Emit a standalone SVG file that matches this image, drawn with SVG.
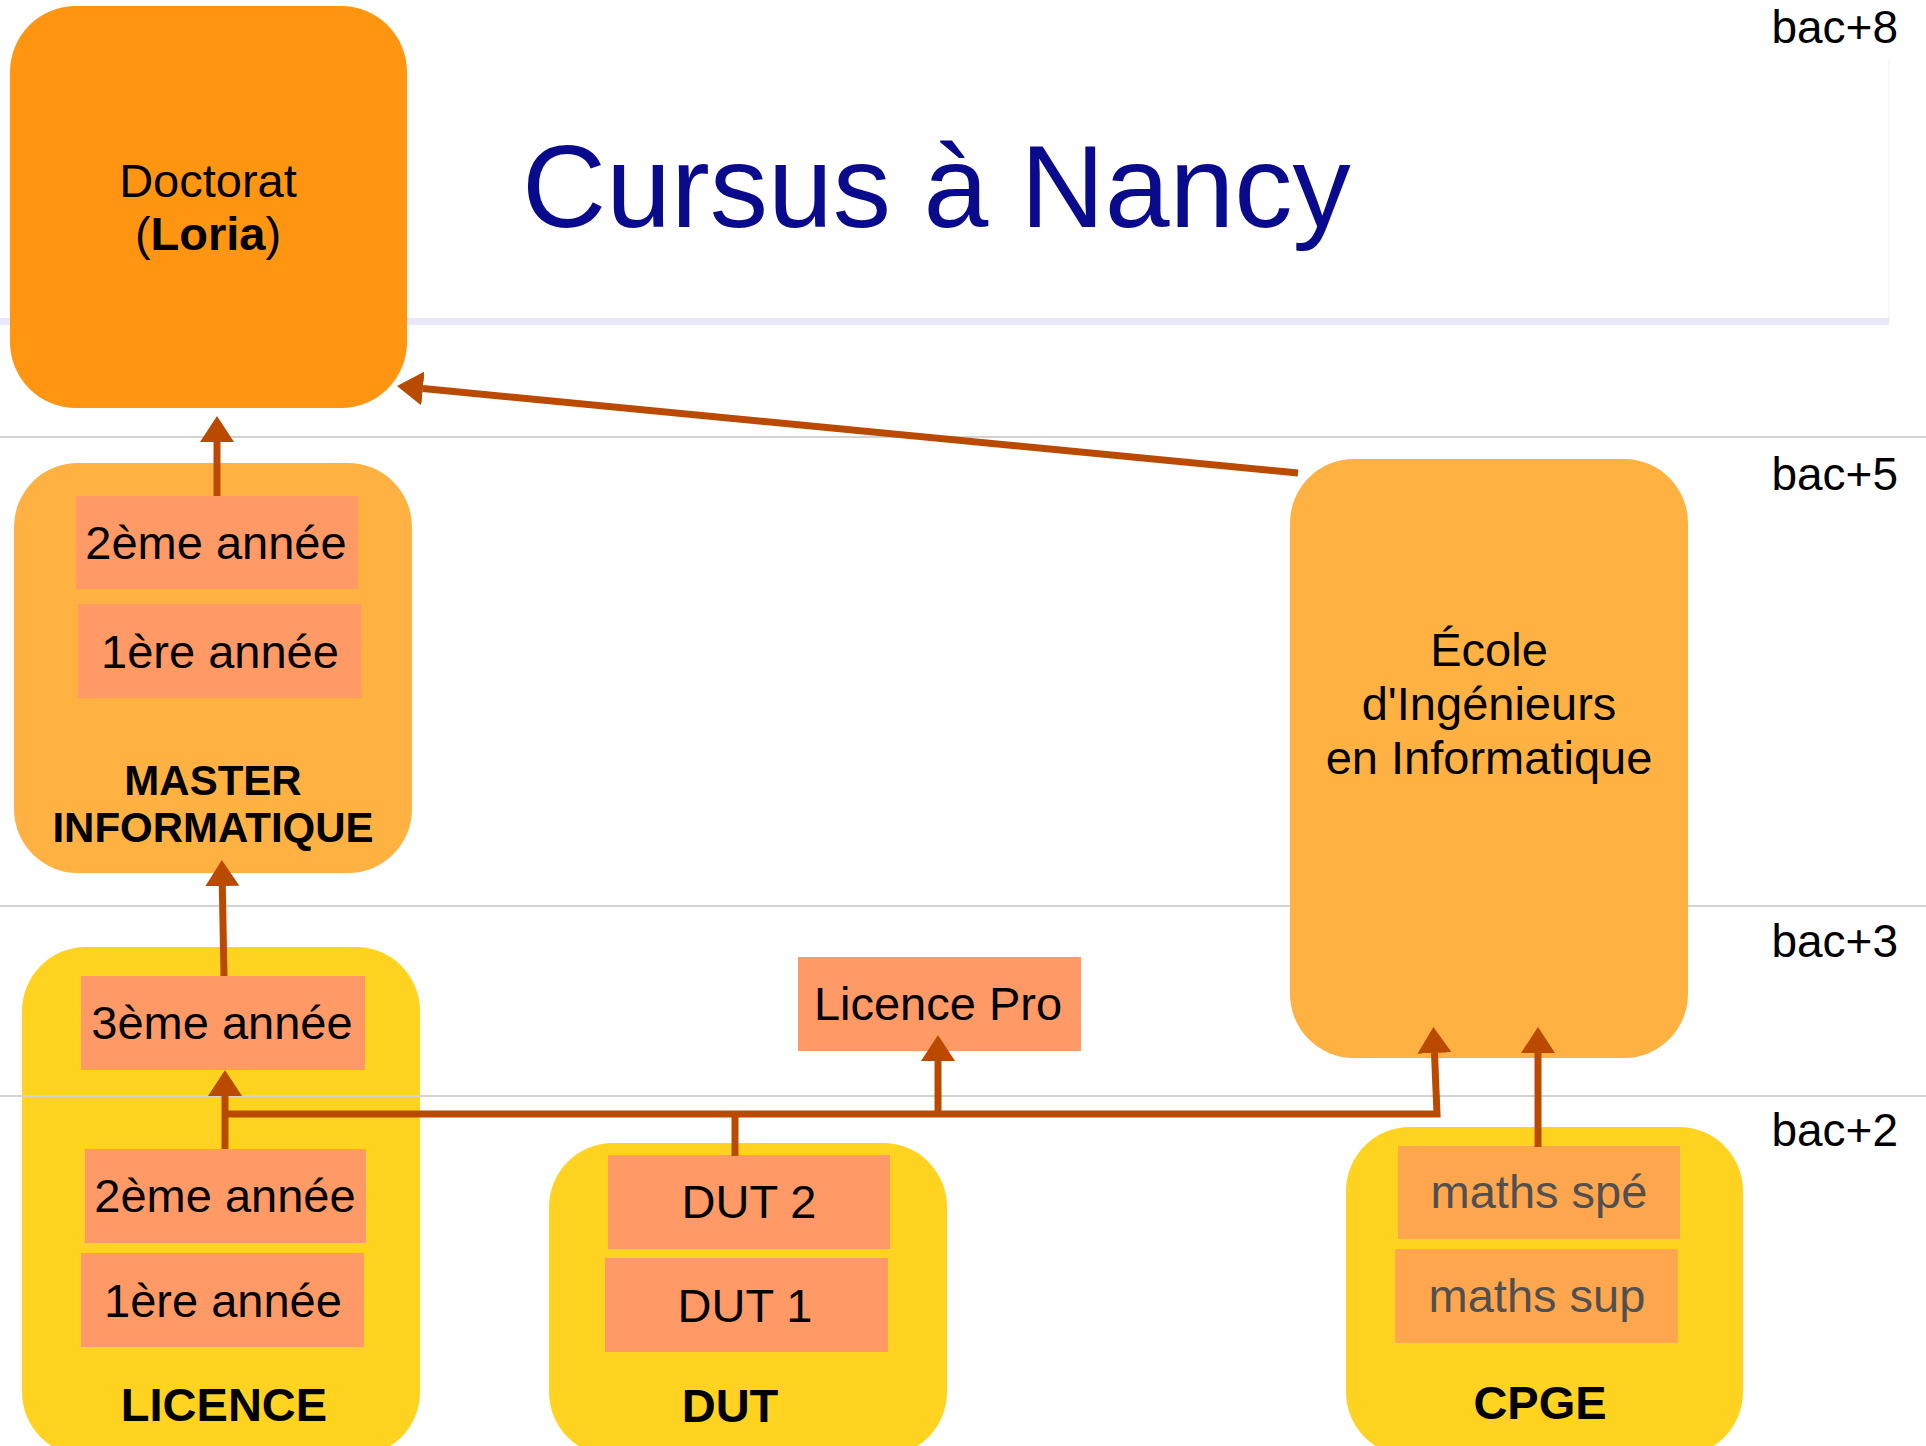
<svg xmlns="http://www.w3.org/2000/svg" width="1926" height="1446" viewBox="0 0 1926 1446">
<style>
.t{font-family:"Liberation Sans",Arial,sans-serif;font-size:47px;fill:#000;text-anchor:middle}
.b{font-weight:bold}
.m{font-size:42px}
.lvl{font-family:"Liberation Sans",Arial,sans-serif;font-size:46px;fill:#000;text-anchor:end}
.grid{stroke:#D2D2D2;stroke-width:2}
.big1{fill:#FF9511}
.big2{fill:#FFB142}
.big3{fill:#FFD320}
.yr{fill:#FF9966}
.yr2{fill:#FFA64F}
.con{fill:none;stroke:#B94A00;stroke-width:7;stroke-linejoin:miter}
.gray{fill:#505050}
</style>
<defs>
<marker id="ah" markerUnits="userSpaceOnUse" viewBox="0 0 26 34" refX="0" refY="17" markerWidth="26" markerHeight="34" orient="auto">
<path d="M0,0 L26,17 L0,34 z" fill="#B94A00"/>
</marker>
</defs>
<rect width="1926" height="1446" fill="#fff"/>
<g id="background">
<line x1="1889" y1="60" x2="1889" y2="322" stroke="#F4F4F6" stroke-width="1.5"/>
<rect x="0" y="318" width="1889" height="7" fill="#E8E8FA"/>
<line class="grid" x1="0" y1="437" x2="1926" y2="437"/>
<line class="grid" x1="0" y1="906" x2="1926" y2="906"/>
<text class="lvl" x="1898" y="43">bac+8</text>
<text class="lvl" x="1898" y="490">bac+5</text>
<text class="lvl" x="1898" y="957">bac+3</text>
<text class="lvl" x="1898" y="1146">bac+2</text>
<text x="522" y="227" font-family="Liberation Sans, Arial, sans-serif" font-size="116.5" fill="#0A0A8C">Cursus à Nancy</text>
</g>
<g id="doctorat">
<rect class="big1" x="10" y="6" width="397" height="402" rx="66"/>
<text class="t" x="208" y="197">Doctorat</text>
<text class="t" x="208" y="250">(<tspan class="b">Loria</tspan>)</text>
</g>
<g id="master">
<rect class="big2" x="14" y="463" width="398" height="410" rx="64"/>
<rect class="yr" x="76" y="496" width="282" height="93"/>
<text class="t" x="216" y="559">2ème année</text>
<rect class="yr" x="78" y="604" width="283" height="94"/>
<text class="t" x="220" y="668">1ère année</text>
<text class="t b m" x="213" y="795">MASTER</text>
<text class="t b m" x="213" y="842">INFORMATIQUE</text>
</g>
<g id="ecole">
<rect class="big2" x="1290" y="459" width="398" height="599" rx="64"/>
<text class="t" x="1489" y="666">École</text>
<text class="t" x="1489" y="720">d'Ingénieurs</text>
<text class="t" x="1489" y="774">en Informatique</text>
</g>
<g id="licence">
<rect class="big3" x="22" y="947" width="398" height="509" rx="64"/>
<rect class="yr" x="81" y="976" width="284" height="94"/>
<text class="t" x="222" y="1039">3ème année</text>
<rect class="yr" x="85" y="1149" width="281" height="94"/>
<text class="t" x="225" y="1212">2ème année</text>
<rect class="yr" x="81" y="1253" width="283" height="94"/>
<text class="t" x="223" y="1317">1ère année</text>
<text class="t b" x="224" y="1421">LICENCE</text>
</g>
<line class="grid" x1="0" y1="1096" x2="1926" y2="1096"/>
<g id="licencepro">
<rect class="yr" x="798" y="957" width="283" height="94"/>
<text class="t" x="938" y="1020">Licence Pro</text>
</g>
<g id="dut">
<rect class="big3" x="549" y="1143" width="398" height="313" rx="64"/>
<rect class="yr" x="608" y="1155" width="282" height="94"/>
<text class="t" x="749" y="1218">DUT 2</text>
<rect class="yr" x="605" y="1258" width="283" height="94"/>
<text class="t" x="745" y="1322">DUT 1</text>
<text class="t b" x="730" y="1422">DUT</text>
</g>
<g id="cpge">
<rect class="big3" x="1346" y="1127" width="397" height="329" rx="64"/>
<rect class="yr2" x="1398" y="1146" width="282" height="93"/>
<text class="t gray" x="1539" y="1208">maths spé</text>
<rect class="yr2" x="1395" y="1249" width="283" height="94"/>
<text class="t gray" x="1537" y="1312">maths sup</text>
<text class="t b" x="1540" y="1419">CPGE</text>
</g>
<g id="connectors">
<path class="con" d="M217,496 L217,442" marker-end="url(#ah)"/>
<path class="con" d="M224,976 L222.3,886" marker-end="url(#ah)"/>
<path class="con" d="M1298,473 L422.9,388.5" marker-end="url(#ah)"/>
<path class="con" d="M225,1149 L225,1096" marker-end="url(#ah)"/>
<path class="con" d="M735,1156 L735,1114"/>
<path class="con" d="M225,1114 L1437,1114 L1434.5,1053" marker-end="url(#ah)"/>
<path class="con" d="M938,1114 L938,1061" marker-end="url(#ah)"/>
<path class="con" d="M1538,1147 L1538,1053" marker-end="url(#ah)"/>
</g>
</svg>
